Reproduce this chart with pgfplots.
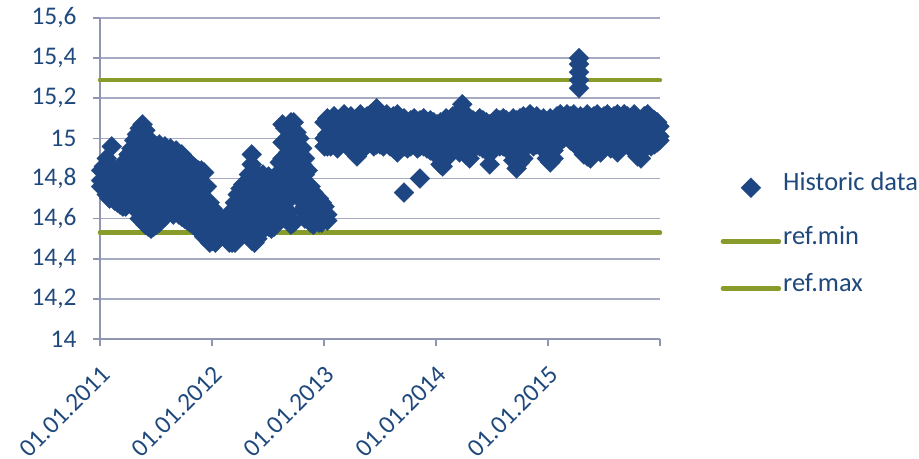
\documentclass[border=0pt]{standalone}
\usepackage{fontspec}
\setmainfont{Carlito}
\usepackage{pgfplots}
\usepackage{pgfplotstable}
\pgfplotsset{compat=1.18}
\definecolor{tcol}{HTML}{1F497D}
\definecolor{mblue}{HTML}{1E4682}
\definecolor{refgreen}{HTML}{879C2A}
\definecolor{gridcol}{HTML}{A6AAC2}
\definecolor{axcol}{HTML}{9096B2}

% low period 2011-2012 (x in years)
\pgfplotstableread{
x a b c d e f g
2011.010 14.84 14.79 14.76 nan nan nan nan
2011.035 14.86 14.80 14.75 nan nan nan nan
2011.060 14.90 14.83 14.76 14.72 nan nan nan
2011.085 14.87 14.80 14.74 14.70 nan nan nan
2011.105 14.96 14.84 14.78 14.71 nan nan nan
2011.130 14.80 14.74 14.69 nan nan nan nan
2011.155 14.78 14.72 14.68 nan nan nan nan
2011.180 14.82 14.76 14.70 14.67 nan nan nan
2011.205 14.85 14.78 14.72 14.66 nan nan nan
2011.230 14.89 14.82 14.74 14.66 nan nan nan
2011.255 14.92 14.84 14.76 14.68 nan nan nan
2011.280 14.95 14.87 14.80 14.72 nan nan nan
2011.305 14.99 14.92 14.85 14.78 14.72 nan nan
2011.330 15.02 14.95 14.88 14.80 14.72 14.64 nan
2011.355 15.05 14.98 14.90 14.82 14.74 14.66 14.60
2011.380 15.07 15.01 14.93 14.85 14.77 14.68 14.59
2011.405 15.04 14.96 14.88 14.80 14.72 14.64 14.57
2011.430 15.00 14.92 14.84 14.76 14.68 14.60 14.56
2011.455 14.97 14.90 14.82 14.74 14.66 14.58 14.55
2011.480 14.95 14.87 14.79 14.71 14.63 14.56 nan
2011.505 14.96 14.88 14.80 14.72 14.64 14.57 nan
2011.530 14.97 14.90 14.82 14.74 14.66 14.58 nan
2011.555 14.95 14.87 14.79 14.71 14.64 14.60 nan
2011.580 14.96 14.89 14.81 14.73 14.66 14.61 nan
2011.605 14.94 14.86 14.78 14.70 14.63 nan nan
2011.630 14.95 14.88 14.80 14.72 14.65 nan nan
2011.655 14.93 14.85 14.77 14.69 14.62 nan nan
2011.680 14.94 14.87 14.79 14.71 14.64 nan nan
2011.705 14.92 14.84 14.76 14.68 14.62 nan nan
2011.730 14.92 14.85 14.77 14.69 14.61 nan nan
2011.755 14.90 14.82 14.74 14.66 14.60 nan nan
2011.780 14.89 14.83 14.75 14.67 14.59 nan nan
2011.805 14.87 14.80 14.72 14.64 14.58 nan nan
2011.830 14.86 14.79 14.71 14.63 14.57 nan nan
2011.855 14.85 14.77 14.69 14.62 14.56 nan nan
2011.880 14.84 14.76 14.68 14.60 14.55 nan nan
2011.905 14.84 14.76 14.68 14.60 14.53 nan nan
2011.930 14.83 14.75 14.67 14.58 14.51 nan nan
2011.955 14.76 14.68 14.60 14.52 nan nan nan
2011.980 14.68 14.60 14.52 14.48 nan nan nan
2012.005 14.65 14.57 14.49 nan nan nan nan
2012.030 14.63 14.56 14.48 nan nan nan nan
2012.055 14.61 14.55 14.50 nan nan nan nan
2012.080 14.60 14.53 nan nan nan nan nan
2012.105 14.59 14.52 nan nan nan nan nan
2012.130 14.60 14.53 14.50 nan nan nan nan
2012.155 14.62 14.55 14.48 nan nan nan nan
2012.180 14.64 14.56 14.48 nan nan nan nan
2012.205 14.68 14.60 14.52 14.48 nan nan nan
2012.230 14.72 14.64 14.56 14.50 nan nan nan
2012.255 14.75 14.67 14.59 14.52 nan nan nan
2012.280 14.77 14.69 14.61 14.53 nan nan nan
2012.305 14.78 14.70 14.62 14.54 nan nan nan
2012.330 14.82 14.74 14.66 14.58 14.51 nan nan
2012.355 14.92 14.87 14.80 14.72 14.64 14.56 14.49
2012.380 14.80 14.72 14.64 14.56 14.48 nan nan
2012.405 14.82 14.74 14.66 14.58 14.50 nan nan
2012.430 14.81 14.73 14.65 14.57 14.53 nan nan
2012.455 14.82 14.74 14.66 14.58 nan nan nan
2012.480 14.80 14.72 14.64 14.57 nan nan nan
2012.505 14.81 14.73 14.65 14.56 nan nan nan
2012.530 14.79 14.71 14.63 14.55 nan nan nan
2012.555 14.80 14.72 14.64 14.56 nan nan nan
2012.580 14.82 14.74 14.66 14.58 nan nan nan
2012.605 14.88 14.80 14.72 14.64 14.60 nan nan
2012.630 15.07 14.98 14.90 14.82 14.74 14.66 nan
2012.655 15.05 14.97 14.89 14.81 14.73 14.65 nan
2012.680 15.00 14.93 14.85 14.77 14.69 14.63 nan
2012.705 15.08 15.02 14.94 14.86 14.78 14.57 nan
2012.730 15.08 15.00 14.92 14.84 14.76 14.58 nan
2012.755 15.03 14.96 14.88 14.80 14.72 nan nan
2012.780 15.00 14.92 14.84 14.76 14.70 nan nan
2012.805 14.95 14.87 14.79 14.72 14.64 nan nan
2012.830 14.90 14.82 14.74 14.66 14.60 nan nan
2012.855 14.84 14.76 14.68 14.60 nan nan nan
2012.880 14.76 14.70 14.64 14.58 nan nan nan
2012.905 14.73 14.67 14.61 14.57 nan nan nan
2012.930 14.71 14.65 14.59 nan nan nan nan
2012.955 14.70 14.64 14.58 nan nan nan nan
2012.980 14.68 14.62 14.58 nan nan nan nan
2013.005 14.66 14.60 15.08 15.00 14.96 nan nan
2013.030 14.62 14.59 15.10 15.02 14.96 nan nan
}\lowtab

% high period 2013-2015
\pgfplotstableread{
x a b c d
2013.060 15.08 15.01 14.96 nan
2013.090 15.11 15.04 14.97 nan
2013.120 15.09 15.02 14.95 nan
2013.150 15.10 15.03 14.97 nan
2013.180 15.12 15.05 14.98 nan
2013.210 15.09 15.02 14.96 nan
2013.240 15.11 15.04 14.95 nan
2013.270 15.08 15.01 14.94 nan
2013.295 15.10 15.02 14.91 nan
2013.325 15.12 15.05 14.97 nan
2013.355 15.09 15.02 14.95 nan
2013.385 15.11 15.04 14.97 nan
2013.415 15.12 15.05 14.98 nan
2013.445 15.10 15.03 14.96 nan
2013.470 15.15 15.07 15.00 14.97
2013.500 15.11 15.04 14.97 nan
2013.530 15.09 15.02 14.96 nan
2013.560 15.12 15.05 14.98 nan
2013.590 15.10 15.03 14.96 nan
2013.620 15.11 15.04 14.95 nan
2013.655 15.12 15.04 14.96 14.93
2013.685 15.09 15.02 14.95 nan
2013.714 15.10 15.03 14.96 14.73
2013.745 15.08 15.01 14.95 nan
2013.775 15.09 15.02 14.96 nan
2013.805 15.10 15.03 14.97 nan
2013.835 15.08 15.01 14.95 nan
2013.857 15.09 15.02 14.96 14.80
2013.890 15.10 15.03 14.96 nan
2013.920 15.08 15.01 14.95 nan
2013.950 15.09 15.02 14.94 nan
2013.980 15.08 15.01 14.93 nan
2014.010 15.07 15.00 14.93 nan
2014.040 15.08 15.01 14.94 14.87
2014.060 15.06 14.99 14.92 14.86
2014.090 15.10 15.02 14.95 14.90
2014.120 15.09 15.02 14.95 nan
2014.150 15.11 15.04 14.96 nan
2014.180 15.12 15.04 14.97 nan
2014.210 15.13 15.05 14.97 14.93
2014.235 15.17 15.10 15.02 14.95
2014.265 15.12 15.05 14.98 14.92
2014.300 15.10 15.03 14.96 14.90
2014.330 15.09 15.02 14.95 nan
2014.360 15.08 15.01 14.96 nan
2014.390 15.10 15.03 14.96 nan
2014.420 15.09 15.02 14.95 nan
2014.450 15.08 15.01 14.94 nan
2014.480 15.07 15.00 14.93 14.87
2014.510 15.08 15.01 14.94 nan
2014.540 15.10 15.03 14.96 nan
2014.570 15.09 15.02 14.96 nan
2014.600 15.10 15.03 14.96 nan
2014.630 15.09 15.02 14.95 nan
2014.660 15.08 15.01 14.94 nan
2014.690 15.10 15.02 14.93 14.89
2014.720 15.09 15.01 14.93 14.85
2014.750 15.10 15.02 14.95 14.88
2014.780 15.11 15.03 14.95 14.90
2014.810 15.10 15.03 14.96 nan
2014.840 15.12 15.05 14.98 nan
2014.870 15.10 15.03 14.96 nan
2014.900 15.11 15.04 14.97 nan
2014.930 15.09 15.02 14.96 nan
2014.960 15.10 15.03 14.95 nan
2014.990 15.08 15.01 14.94 14.90
2015.020 15.10 15.02 14.95 14.88
2015.050 15.09 15.02 14.94 14.90
2015.080 15.11 15.04 14.97 nan
2015.110 15.12 15.06 15.00 nan
2015.140 15.10 15.05 15.00 nan
2015.170 15.12 15.06 15.01 nan
2015.200 15.11 15.05 14.99 nan
2015.230 15.12 15.05 14.98 nan
2015.260 15.10 15.03 14.96 nan
2015.290 15.11 15.04 14.96 nan
2015.320 15.10 15.02 14.94 14.92
2015.350 15.12 15.04 14.96 14.91
2015.380 15.10 15.03 14.95 14.90
2015.410 15.11 15.04 14.97 nan
2015.440 15.12 15.05 14.98 nan
2015.470 15.10 15.03 14.96 14.93
2015.500 15.11 15.04 14.97 nan
2015.530 15.12 15.05 14.98 nan
2015.560 15.10 15.03 14.95 nan
2015.590 15.11 15.04 14.97 nan
2015.620 15.12 15.05 14.96 14.93
2015.650 15.10 15.03 14.96 nan
2015.680 15.12 15.04 14.97 nan
2015.710 15.11 15.04 14.97 nan
2015.740 15.10 15.03 14.95 nan
2015.770 15.12 15.04 14.96 nan
2015.800 15.10 15.02 14.94 14.91
2015.830 15.09 15.02 14.93 14.90
2015.860 15.11 15.03 14.95 nan
2015.890 15.12 15.05 14.97 nan
2015.920 15.10 15.03 14.96 nan
2015.950 15.09 15.02 14.97 nan
2015.975 15.08 15.02 14.98 nan
2015.995 15.06 15.01 14.99 nan
}\hightab

% spike in spring 2015
\pgfplotstableread{
x y
2015.277 15.40
2015.277 15.37
2015.277 15.33
2015.277 15.29
2015.277 15.25
}\spiketab

\pgfplotsset{
  hist/.style={only marks, mark=square*, mark size=7.07bp,
    mark options={rotate=45, fill=mblue, draw=mblue, line width=0.2bp}},
  refl/.style={refgreen, line width=4.5bp, line cap=round},
  histleg/.style={legend image code/.code={%
    \draw[mark repeat=2,mark phase=2,##1] plot coordinates {(0bp,0bp) (28bp,0bp) (56bp,0bp)};}},
  lineleg/.style={legend image code/.code={%
    \draw[##1] (0bp,0bp) -- (56bp,0bp);}},
}

\begin{document}
\begin{tikzpicture}
\path[use as bounding box] (-100bp,-120bp) rectangle (819bp,339bp);
\begin{axis}[
  at={(0,0)}, anchor=south west, scale only axis,
  width=560bp, height=321bp,
  xmin=2011, xmax=2016, ymin=14, ymax=15.6,
  clip=false,
  axis lines=left,
  axis line style={-, draw=axcol, line width=1.5bp},
  xtick={2011,2012,2013,2014,2015,2016},
  xticklabels={01.01.2011,01.01.2012,01.01.2013,01.01.2014,01.01.2015,{}},
  ytick={14,14.2,14.4,14.6,14.8,15,15.2,15.4,15.6},
  ymajorgrids,
  grid style={draw=gridcol, line width=1.5bp},
  tick align=outside,
  major tick length=7bp,
  tick style={draw=axcol, line width=1.5bp},
  tick label style={font=\fontsize{25.5}{30}\selectfont, text=tcol},
  yticklabel style={/pgf/number format/use comma, /pgf/number format/assume math mode=true, xshift=-13bp},
  xticklabel style={yshift=-17bp, rotate=45, anchor=north east, inner sep=1bp},
  legend style={at={(1.108,0.324)}, anchor=west, draw=none, fill=none,
    font=\fontsize{26.5}{30}\selectfont, text=tcol, inner sep=0pt,
    row sep=40bp, nodes={inner xsep=2bp, inner ysep=0bp, text height=0.68em, text depth=0.05em}},
  legend cell align=left,
]
\addplot[refl, forget plot] coordinates {(2011,14.53) (2016,14.53)};
\addplot[refl, forget plot] coordinates {(2011,15.29) (2016,15.29)};

\addplot[hist, histleg] table[x=x, y=a] {\lowtab};
\addlegendentry{Historic data}
\addplot[hist, forget plot] table[x=x, y=b] {\lowtab};
\addplot[hist, forget plot] table[x=x, y=c] {\lowtab};
\addplot[hist, forget plot] table[x=x, y=d] {\lowtab};
\addplot[hist, forget plot] table[x=x, y=e] {\lowtab};
\addplot[hist, forget plot] table[x=x, y=f] {\lowtab};
\addplot[hist, forget plot] table[x=x, y=g] {\lowtab};
\addplot[hist, forget plot] table[x=x, y=a] {\hightab};
\addplot[hist, forget plot] table[x=x, y=b] {\hightab};
\addplot[hist, forget plot] table[x=x, y=c] {\hightab};
\addplot[hist, forget plot] table[x=x, y=d] {\hightab};
\addplot[hist, forget plot] table[x=x, y=y] {\spiketab};

\addlegendimage{refl, lineleg}
\addlegendentry{ref.min}
\addlegendimage{refl, lineleg}
\addlegendentry{ref.max}
\end{axis}
\end{tikzpicture}
\end{document}
